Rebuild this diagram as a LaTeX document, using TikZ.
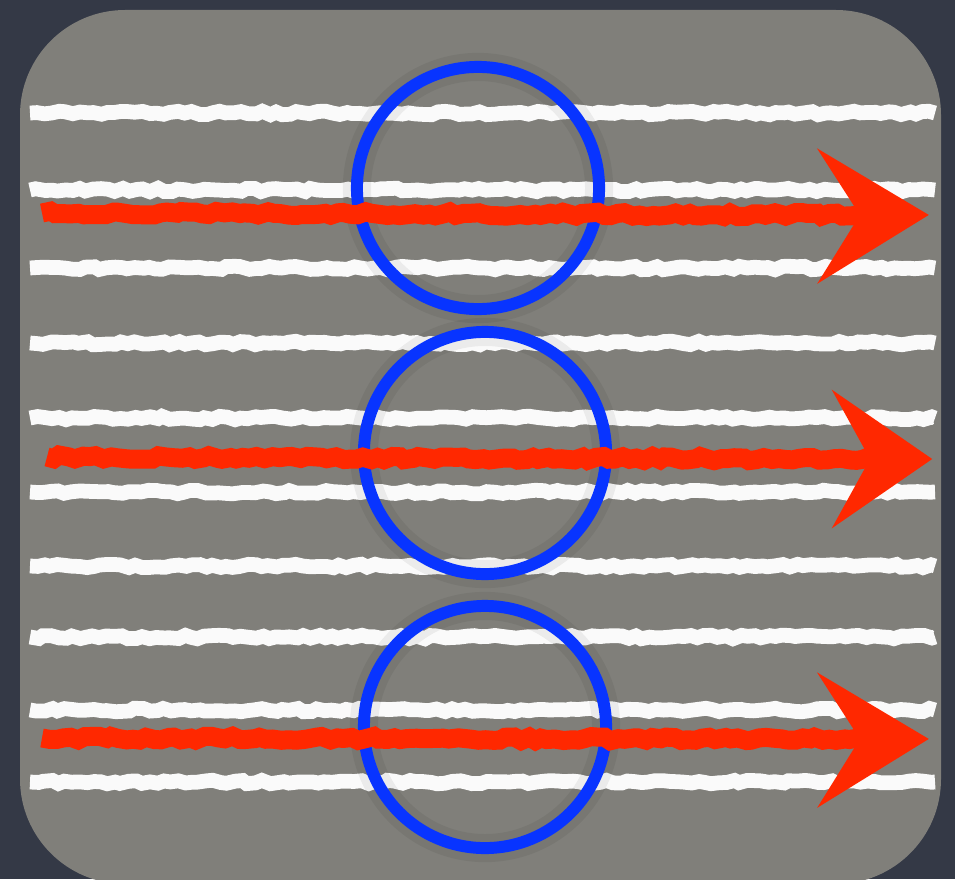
\documentclass[tikz,border=0pt]{standalone}
\usepackage{tikz}
\usetikzlibrary{calc,decorations.pathmorphing}
\definecolor{myslate}{RGB}{52,57,70}
\definecolor{mypanel}{RGB}{128,127,122}
\definecolor{mychalk}{RGB}{250,250,250}
\definecolor{myblue}{RGB}{8,52,255}
\definecolor{myred}{RGB}{255,40,0}

\begin{document}
\begin{tikzpicture}[
      x=0.01cm, y=-0.01cm,
      chalk/.style={draw=mychalk, line width=4.2pt,
                  decorate, decoration={random steps, segment length=2pt, amplitude=0.5pt}},
      ring/.style={circle, draw=myblue, line width=3.4pt, inner sep=0pt,
                  minimum size=2.42cm},
      halo/.style={circle, draw=black, draw opacity=0.06, line width=8pt,
                  inner sep=0pt, minimum size=2.42cm},
      shaft/.style={draw=myred, line width=5.4pt,
                  decorate, decoration={random steps, segment length=2pt, amplitude=0.6pt}},
      head/.style={draw=myred, fill=myred, line width=2pt,
                  line join=miter}
    ]
    \pgfmathsetseed{7}
    \useasboundingbox (0,0) rectangle (955,879);
    \fill[myslate] (0,0) rectangle (955,879);
    \fill[mypanel, rounded corners=1.05cm] (20,10) rectangle (941,884);

    % chalk lines
    \draw[chalk] (30,113) -- (935,113);
    \draw[chalk] (30,190) -- (935,190);
    \draw[chalk] (30,268) -- (935,268);
    \draw[chalk] (30,343) -- (935,343);
    \draw[chalk] (30,418) -- (935,418);
    \draw[chalk] (30,492) -- (935,492);
    \draw[chalk] (30,566) -- (935,566);
    \draw[chalk] (30,637) -- (935,637);
    \draw[chalk] (30,710) -- (935,710);
    \draw[chalk] (30,782) -- (935,782);

    % rings
    \node[halo] at (478,188) {};
    \node[halo] at (485,453) {};
    \node[halo] at (485,727) {};
    \node[ring] (c1) at (478,188) {};
    \node[ring] (c2) at (485,453) {};
    \node[ring] (c3) at (485,727) {};

    % arrows
    \coordinate (s1) at (42,213);
    \coordinate (e1) at (922,215);
    \coordinate (s2) at (47,457);
    \coordinate (e2) at (926,459);
    \coordinate (s3) at (42,738);
    \coordinate (e3) at (922,739);
    \draw[shaft] (s1) -- ($(e1)+(-40,0)$);
    \draw[shaft] (s2) -- ($(e2)+(-40,0)$);
    \draw[shaft] (s3) -- ($(e3)+(-40,0)$);
    \draw[head] ($(e1)+(-94,-56)$) -- (e1) -- ($(e1)+(-94,58)$) -- ($(e1)+(-58,0)$) -- cycle;
    \draw[head] ($(e2)+(-84,-58)$) -- (e2) -- ($(e2)+(-84,58)$) -- ($(e2)+(-52,0)$) -- cycle;
    \draw[head] ($(e3)+(-94,-56)$) -- (e3) -- ($(e3)+(-94,58)$) -- ($(e3)+(-58,0)$) -- cycle;
  \end{tikzpicture}
\end{document}
